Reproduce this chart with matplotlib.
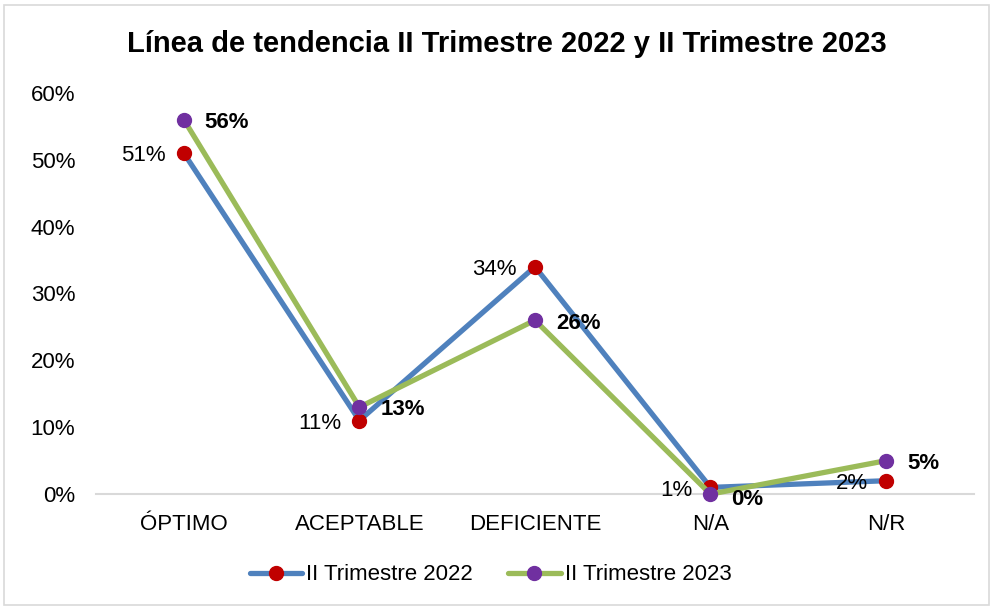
import matplotlib.pyplot as plt
from matplotlib.patches import Rectangle
from matplotlib.ticker import PercentFormatter

plt.rcParams['font.family'] = ['Liberation Sans', 'DejaVu Sans']

categories = ["ÓPTIMO", "ACEPTABLE", "DEFICIENTE", "N/A", "N/R"]
tri_2022 = [51, 11, 34, 1, 2]
tri_2023 = [56, 13, 26, 0, 5]
labels = ["II Trimestre 2022", "II Trimestre 2023"]

fig = plt.figure(figsize=(9.93, 6.07), dpi=100)
ax = fig.add_axes([0.0967, 0.186, 0.884, 0.661])

x = range(len(categories))
ax.plot(x, tri_2022, color="#4F81BD", lw=3.8, marker="o", ms=10, clip_on=False,
        mfc="#C00000", mec="#C00000", label=labels[0], solid_capstyle="round")
ax.plot(x, tri_2023, color="#9BBB59", lw=3.8, marker="o", ms=10, clip_on=False,
        mfc="#7030A0", mec="#7030A0", label=labels[1], solid_capstyle="round")

# data labels
for i, v in enumerate(tri_2022):
    ax.annotate(f"{v}%", (i, v), xytext=(-13, -2), textcoords="offset points",
                ha="right", va="center", fontsize=16)
for i, v in enumerate(tri_2023):
    dy = -2 if v > 0 else -4
    ax.annotate(f"{v}%", (i, v), xytext=(15, dy), textcoords="offset points",
                ha="left", va="center", fontsize=16, fontweight="bold")

ax.set_xlim(-0.5, len(categories) - 0.5)
ax.set_ylim(0, 60)
ax.set_yticks(range(0, 61, 10))
ax.yaxis.set_major_formatter(PercentFormatter(decimals=0))
ax.set_xticks(list(x))
ax.set_xticklabels(categories)
ax.tick_params(axis="both", length=0, labelsize=16, colors="black")
ax.tick_params(axis="y", pad=15)
ax.tick_params(axis="x", pad=14)
for s in ["top", "right", "left"]:
    ax.spines[s].set_visible(False)
ax.spines["bottom"].set_color("#D9D9D9")
ax.spines["bottom"].set_linewidth(1.5)
ax.spines["bottom"].set_zorder(0.5)
ax.patch.set_visible(False)

fig.suptitle("Línea de tendencia II Trimestre 2022 y II Trimestre 2023",
             x=0.51, y=0.95, fontsize=21, fontweight="bold")

fig.legend(loc="center", bbox_to_anchor=(0.494, 0.053), ncol=2, frameon=False,
           fontsize=16, handlelength=2.35, handletextpad=0.18, columnspacing=1.6)

fig.patches.append(Rectangle((0.004, 0.003), 0.992, 0.988, transform=fig.transFigure,
                             fill=False, edgecolor="#D9D9D9", lw=1.2))

fig.savefig("out.png", dpi=100)
